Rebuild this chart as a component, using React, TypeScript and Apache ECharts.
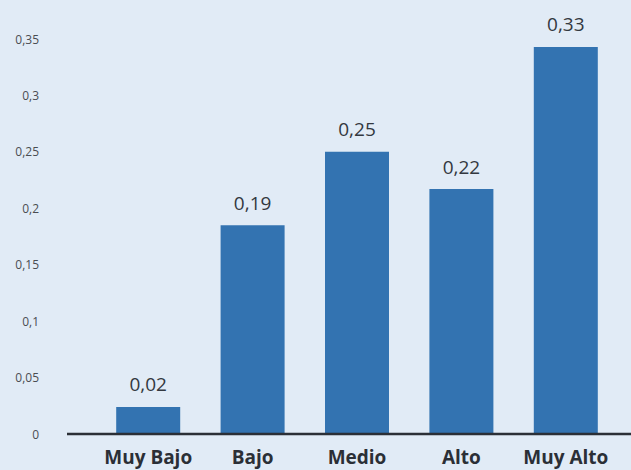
import React, { useEffect, useRef } from "react";
import * as echarts from "echarts";

const categories = ["Muy Bajo", "Bajo", "Medio", "Alto", "Muy Alto"];
const values = [0.024, 0.185, 0.25, 0.217, 0.343];
const valueLabels = ["0,02", "0,19", "0,25", "0,22", "0,33"];
const yTickLabels = ["0", "0,05", "0,1", "0,15", "0,2", "0,25", "0,3", "0,35"];

export default function App() {
  const ref = useRef<HTMLDivElement>(null);
  useEffect(() => {
    if (!ref.current) return;
    const chart = echarts.init(ref.current, null, { renderer: "svg" });
    chart.setOption({
      animation: false,
      backgroundColor: "#e1ebf6",
      grid: { left: 96, right: 13, top: 39, bottom: 36, containLabel: false },
      xAxis: {
        type: "category",
        data: categories,
        axisLine: { show: false },
        axisTick: { show: false },
        axisLabel: {
          interval: 0,
          margin: 13,
          fontFamily: "Open Sans",
          fontWeight: "bold",
          fontSize: 19,
          lineHeight: 19,
          color: "#2b2f36",
        },
      },
      yAxis: {
        type: "value",
        min: 0,
        max: 0.35,
        interval: 0.05,
        splitLine: { show: false },
        axisLine: { show: false },
        axisTick: { show: false },
        axisLabel: {
          margin: 57,
          fontFamily: "Open Sans",
          fontSize: 12,
          color: "#4a4d52",
          formatter: (v: number) => yTickLabels[Math.round(v / 0.05)] ?? "",
        },
      },
      graphic: [
        {
          type: "line",
          shape: { x1: 67, y1: 434, x2: 631, y2: 434 },
          style: { stroke: "#2b2f36", lineWidth: 2.5 },
          z: 10,
        },
      ],
      series: [
        {
          type: "bar",
          data: values,
          barWidth: 64,
          itemStyle: { color: "#3373b1" },
          label: {
            show: true,
            position: "top",
            distance: 13,
            fontFamily: "Open Sans",
            fontSize: 19,
            color: "#333840",
            formatter: (p: any) => valueLabels[p.dataIndex],
          },
        },
      ],
    });
    return () => chart.dispose();
  }, []);
  return (
    <div
      ref={ref}
      style={{ position: "fixed", left: 0, top: 0, width: 631, height: 470 }}
    />
  );
}
